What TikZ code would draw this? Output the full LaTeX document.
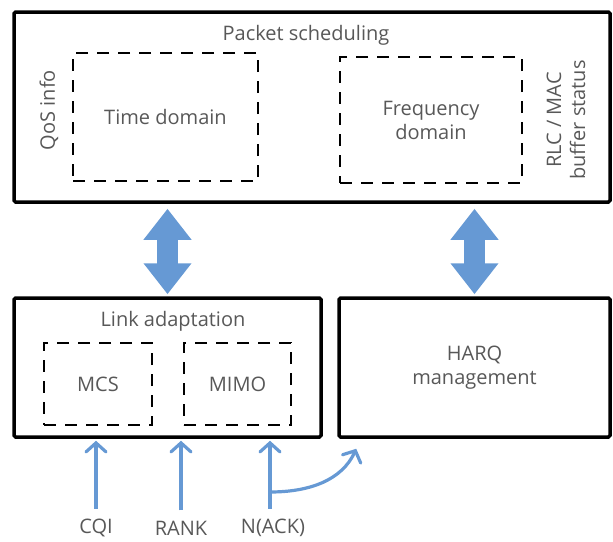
\documentclass[tikz,border=0pt]{standalone}
\usepackage{fontspec}
\setmainfont{Open Sans}
\usepackage{xcolor}
\definecolor{sigblue}{RGB}{102,153,212}
\definecolor{txtgray}{RGB}{88,88,88}
\usetikzlibrary{positioning, arrows.meta, calc}

\begin{document}
\begin{tikzpicture}[
    x = 1pt, y = -1pt,
    every node/.style = {font = \fontsize{20}{24}\selectfont, text = txtgray},
    block/.style      = {draw, line width = 3.5pt, rounded corners = 1.5pt, inner sep = 0pt},
    subblock/.style   = {draw, line width = 2.2pt, dash pattern = on 12pt off 9pt, inner sep = 0pt, align = center},
    bigarr/.style     = {sigblue, line width = 21pt, {Triangle[length=31pt, width=46pt]}-{Triangle[length=31pt, width=46pt]}},
    sig/.style        = {sigblue, line width = 3.2pt, -{Straight Barb[length=9pt, width=20pt, line cap=round]}},
    sideinfo/.style   = {rotate = 90, align = center},
]
\useasboundingbox (0,0) rectangle (613,541);

% ---------- packet scheduling ----------
\node[block, minimum width = 596pt, minimum height = 190pt] (sched) at (312, 107) {};
\node (schedtitle) at (306, 35) {Packet scheduling};
\node[subblock, minimum width = 185pt, minimum height = 128pt] (tdom) at (165.5, 117) {Time domain};
\node[subblock, minimum width = 182pt, minimum height = 126pt] (fdom) at (431, 120) {Frequency\\domain};
\node[sideinfo] (qos) at (49, 110) {QoS info};
\node[sideinfo] (rlc) at (566, 120) {RLC / MAC\\buffer status};

% ---------- link adaptation and HARQ ----------
\node[block, minimum width = 307pt, minimum height = 139pt] (link) at (167.5, 367.5) {};
\node (linktitle) at (173, 321) {Link adaptation};
\node[subblock, minimum width = 108pt, minimum height = 82pt] (mcs) at (98, 384) {MCS};
\node[subblock, minimum width = 107pt, minimum height = 82pt] (mimo) at (237.5, 384) {MIMO};
\node[block, minimum width = 271pt, minimum height = 139pt, align = center] (harq) at (474.5, 367.5) {HARQ\\management};

% ---------- feedback inputs ----------
\node (cqi)  at (96, 528)  {CQI};
\node (rank) at (181, 528) {RANK};
\node (nack) at (273, 528) {N(ACK)};
\coordinate (split) at (270, 492);

% ---------- connectors ----------
\draw[bigarr, shorten <= 5pt, shorten >= 2pt] (link.north |- sched.south) -- (link.north);
\draw[bigarr, shorten <= 5pt, shorten >= 2pt] (harq.north |- sched.south) -- (harq.north);

\draw[sig, shorten <= 7pt, shorten >= 2pt] (cqi.north) -- (cqi.north |- link.south);
\draw[sig, shorten <= 7pt, shorten >= 2pt] (rank.north) -- (rank.north |- link.south);
\draw[sig, shorten >= 2pt] ([yshift=7pt]split |- nack.north) -- (split |- link.south);
\draw[sig] (split) .. controls (310, 492) and (342, 480) .. ([shift={(19pt,-10pt)}]harq.south west);

\end{tikzpicture}
\end{document}
